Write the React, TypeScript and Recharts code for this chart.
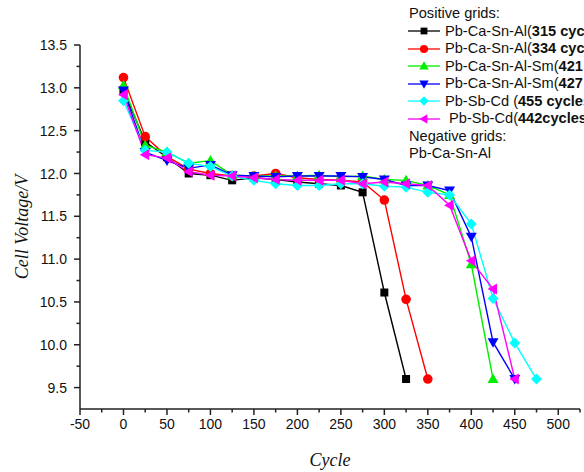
import { LineChart, Line, XAxis, YAxis } from 'recharts'

// cycle numbers on the x axis
const cycles = [0, 25, 50, 75, 100, 125, 150, 175, 200, 225, 250, 275, 300, 325, 350, 375, 400, 425, 450, 475]

// cell voltage per grid
const caSnAl315 = [12.97, 12.37, 12.19, 12.0, 11.98, 11.92, 11.95, 11.93, 11.9, 11.88, 11.86, 11.78, 10.61, 9.6]
const caSnAl334 = [13.12, 12.43, 12.2, 12.05, 12.0, 11.97, 11.97, 12.0, 11.95, 11.93, 11.92, 11.9, 11.69, 10.53, 9.6]
const caSnAlSm421 = [13.03, 12.33, 12.25, 12.12, 12.15, 11.98, 11.97, 11.97, 11.97, 11.98, 11.96, 11.97, 11.93, 11.92, 11.86, 11.75, 10.94, 9.6]
const caSnAlSm427 = [12.97, 12.25, 12.15, 12.06, 12.1, 11.98, 11.97, 11.96, 11.97, 11.97, 11.97, 11.96, 11.93, 11.86, 11.86, 11.8, 11.26, 10.03, 9.6]
const sbCd455 = [12.85, 12.27, 12.25, 12.12, 12.08, 11.97, 11.92, 11.88, 11.86, 11.86, 11.88, 11.88, 11.85, 11.84, 11.78, 11.75, 11.41, 10.54, 10.02, 9.6]
const sbCd442 = [12.92, 12.22, 12.18, 12.02, 11.98, 11.97, 11.95, 11.93, 11.92, 11.92, 11.92, 11.88, 11.9, 11.88, 11.86, 11.63, 10.98, 10.65, 9.6]

// major ticks get a label, minor ones only a short mark
const xMajor = [-50, 0, 50, 100, 150, 200, 250, 300, 350, 400, 450, 500]
const xMinor = [-25, 25, 75, 125, 175, 225, 275, 325, 375, 425, 475, 525]
const yMajor = [9.5, 10.0, 10.5, 11.0, 11.5, 12.0, 12.5, 13.0, 13.5]
const yMinor = [9.75, 10.25, 10.75, 11.25, 11.75, 12.25, 12.75, 13.25]

type Shape = 'square' | 'circle' | 'up' | 'down' | 'diamond' | 'left'

const series: { name: string; bold: string; values: number[]; color: string; shape: Shape }[] = [
  { name: 'Pb-Ca-Sn-Al(', bold: '315 cycles)', values: caSnAl315, color: '#000000', shape: 'square' },
  { name: 'Pb-Ca-Sn-Al(', bold: '334 cycles)', values: caSnAl334, color: '#ff0000', shape: 'circle' },
  { name: 'Pb-Ca-Sn-Al-Sm(', bold: '421 cycles)', values: caSnAlSm421, color: '#00ee00', shape: 'up' },
  { name: 'Pb-Ca-Sn-Al-Sm(', bold: '427 cycles)', values: caSnAlSm427, color: '#0000ff', shape: 'down' },
  { name: 'Pb-Sb-Cd (', bold: '455 cycles)', values: sbCd455, color: '#00ffff', shape: 'diamond' },
  { name: ' Pb-Sb-Cd(', bold: '442cycles)', values: sbCd442, color: '#ff00ff', shape: 'left' },
]

function Marker({ shape, cx, cy, color, k = 1 }: { shape: Shape; cx: number; cy: number; color: string; k?: number }) {
  if (cx == null || cy == null) return null
  const a = 5.5 * k
  const b = 4 * k
  switch (shape) {
    case 'square':
      return <rect x={cx - b} y={cy - b} width={2 * b} height={2 * b} fill={color} />
    case 'circle':
      return <circle cx={cx} cy={cy} r={4.8 * k} fill={color} />
    case 'up':
      return <polygon points={`${cx},${cy - a} ${cx + a},${cy + b} ${cx - a},${cy + b}`} fill={color} />
    case 'down':
      return <polygon points={`${cx},${cy + a} ${cx + a},${cy - b} ${cx - a},${cy - b}`} fill={color} />
    case 'diamond':
      return <polygon points={`${cx},${cy - a} ${cx + a},${cy} ${cx},${cy + a} ${cx - a},${cy}`} fill={color} />
    case 'left':
      return <polygon points={`${cx - a},${cy} ${cx + b},${cy - a} ${cx + b},${cy + a}`} fill={color} />
  }
  return null
}

const font = 'Liberation Sans, Arial, sans-serif'
const titleStyle = { fontFamily: 'Liberation Serif, Times New Roman, serif', fontStyle: 'italic' as const, fontSize: 18, fill: '#111' }
const TICK = 6
const GAP = 4

const XTick = (props: any) => {
  const { x, y, payload } = props
  const major = xMajor.includes(payload.value)
  const axisY = y - TICK - GAP
  return (
    <g>
      <line x1={x} x2={x} y1={axisY} y2={axisY + (major ? 6 : 3.5)} stroke="#222" strokeWidth={1.5} />
      {major && (
        <text x={x} y={y} dy="0.71em" textAnchor="middle" fontFamily={font} fontSize={14} fill="#111">
          {payload.value}
        </text>
      )}
    </g>
  )
}

const YTick = (props: any) => {
  const { x, y, payload } = props
  const major = yMajor.some((v) => Math.abs(v - payload.value) < 1e-6)
  const axisX = x + TICK + GAP
  return (
    <g>
      <line x1={axisX} x2={axisX - (major ? 6 : 3.5)} y1={y} y2={y} stroke="#222" strokeWidth={1.5} />
      {major && (
        <text x={x - 3} y={y} dy="0.36em" textAnchor="end" fontFamily={font} fontSize={14} fill="#111">
          {payload.value.toFixed(1)}
        </text>
      )}
    </g>
  )
}

const XTitle = (props: any) => {
  const { viewBox } = props
  return (
    <text x={viewBox.x + viewBox.width / 2} y={viewBox.y + 57} textAnchor="middle" style={titleStyle}>
      Cycle
    </text>
  )
}

const YTitle = (props: any) => {
  const { viewBox } = props
  const cx = 22
  const cy = viewBox.y + viewBox.height / 2
  return (
    <text x={cx} y={cy} transform={`rotate(-90 ${cx} ${cy})`} textAnchor="middle" dominantBaseline="central" style={titleStyle}>
      Cell Voltage/V
    </text>
  )
}

function Legend() {
  const style = { fontFamily: font, fontSize: 14.6, color: '#111', lineHeight: '17.5px', whiteSpace: 'nowrap' as const }
  return (
    <div style={{ position: 'absolute', left: 409, top: 5, ...style }}>
      <div>Positive grids:</div>
      {series.map((s) => (
        <div key={s.bold} style={{ display: 'flex', alignItems: 'center', height: 17.5, marginLeft: -1 }}>
          <svg width={33} height={14} style={{ marginRight: 4 }}>
            <line x1={0} y1={7} x2={32} y2={7} stroke={s.color} strokeWidth={1.3} />
            <Marker shape={s.shape} cx={16} cy={7} color={s.color} k={0.85} />
          </svg>
          <span style={{ whiteSpace: 'pre' }}>{s.name}</span>
          <span style={{ fontWeight: 'bold' }}>{s.bold}</span>
        </div>
      ))}
      <div>Negative grids:</div>
      <div>Pb-Ca-Sn-Al</div>
    </div>
  )
}

export default function App() {
  return (
    <div style={{ position: 'absolute', left: 0, top: 0, width: 584, height: 472, overflow: 'hidden', background: '#fff' }}>
      <LineChart width={584} height={472} margin={{ top: 45, right: 4, left: 0, bottom: 0 }}>
        <XAxis xAxisId="x" dataKey="x" type="number" domain={[-50, 525]} ticks={[...xMajor, ...xMinor].sort((a, b) => a - b)}
          height={63} interval={0} axisLine={{ stroke: '#222', strokeWidth: 1.5 }} tickLine={false}
          tickSize={TICK} tickMargin={GAP} tick={XTick} allowDataOverflow label={{ content: XTitle }} />
        <YAxis yAxisId="y" type="number" domain={[9.25, 13.5]} ticks={[...yMajor, ...yMinor].sort((a, b) => a - b)}
          width={80} interval={0} axisLine={{ stroke: '#222', strokeWidth: 1.5 }} tickLine={false}
          tickSize={TICK} tickMargin={GAP} tick={YTick} allowDataOverflow label={{ content: YTitle }} />
        {series.map((s) => (
          <Line
            key={s.bold}
            xAxisId="x"
            yAxisId="y"
            data={s.values.map((v, i) => ({ x: cycles[i], v }))}
            dataKey="v"
            type="linear"
            stroke={s.color}
            strokeWidth={1.4}
            isAnimationActive={false}
            dot={(p: any) => <Marker key={`${s.bold}-${p.index}`} shape={s.shape} cx={p.cx} cy={p.cy} color={s.color} />}
            activeDot={false}
          />
        ))}
      </LineChart>
      <Legend />
    </div>
  )
}
